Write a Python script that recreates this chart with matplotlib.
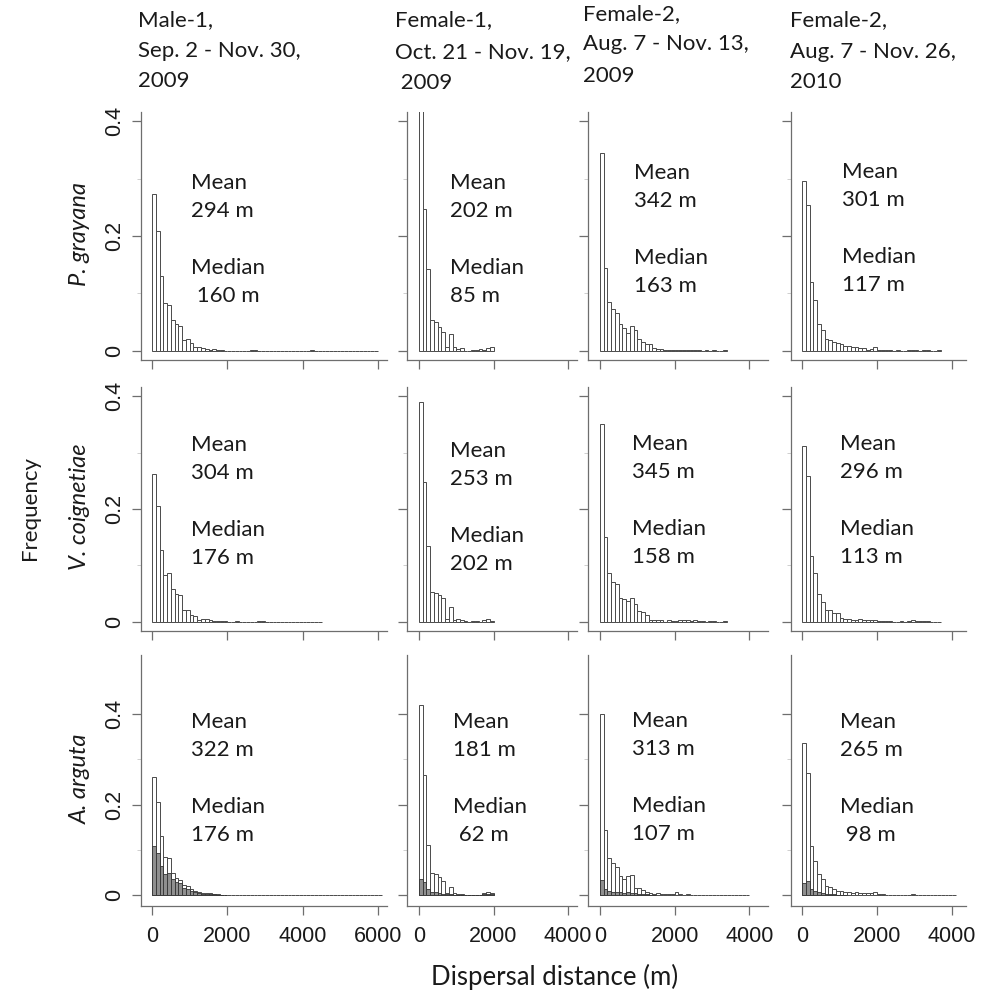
import numpy as np
import matplotlib.pyplot as plt

BIN = 100  # width of a distance class (m)

# relative frequency per 100 m class
# P. grayana
pg_m1 = [0.274, 0.209, 0.130, 0.083, 0.080, 0.053, 0.047, 0.043, 0.019, 0.020,
         0.014, 0.006, 0.006, 0.005, 0.004, 0.002, 0.003, 0.001, 0.001, 0.000,
         0.000, 0.000, 0.000, 0.000, 0.000, 0.000, 0.001, 0.001, 0.000, 0.000,
         0.000, 0.000, 0.000, 0.000, 0.000, 0.000, 0.000, 0.000, 0.000, 0.000,
         0.000, 0.000, 0.001, 0.000, 0.000, 0.000, 0.000, 0.000, 0.000, 0.000,
         0.000, 0.000, 0.000, 0.000, 0.000, 0.000, 0.000, 0.000, 0.000, 0.000]
pg_f1 = [0.420, 0.247, 0.143, 0.053, 0.051, 0.041, 0.032, 0.006, 0.029, 0.006,
         0.004, 0.005, 0.000, 0.000, 0.001, 0.002, 0.004, 0.002, 0.005, 0.006]
pg_f2a = [0.344, 0.144, 0.085, 0.072, 0.065, 0.047, 0.040, 0.031, 0.044, 0.036,
          0.020, 0.015, 0.012, 0.011, 0.005, 0.004, 0.004, 0.002, 0.002, 0.001,
          0.002, 0.002, 0.001, 0.002, 0.001, 0.002, 0.001, 0.000, 0.001, 0.000,
          0.001, 0.000, 0.000, 0.001]
pg_f2b = [0.296, 0.254, 0.120, 0.088, 0.046, 0.037, 0.021, 0.019, 0.015, 0.013,
          0.011, 0.009, 0.008, 0.006, 0.006, 0.005, 0.005, 0.002, 0.003, 0.007,
          0.002, 0.002, 0.001, 0.001, 0.000, 0.001, 0.000, 0.000, 0.001, 0.002,
          0.001, 0.000, 0.002, 0.001, 0.000, 0.000, 0.001]

# V. coignetiae
vc_m1 = [0.262, 0.206, 0.128, 0.084, 0.086, 0.059, 0.050, 0.048, 0.021, 0.021,
         0.012, 0.010, 0.004, 0.005, 0.006, 0.004, 0.002, 0.002, 0.001, 0.001,
         0.000, 0.000, 0.001, 0.000, 0.000, 0.000, 0.000, 0.000, 0.002, 0.001,
         0.000, 0.000, 0.000, 0.000, 0.000, 0.000, 0.000, 0.000, 0.000, 0.000,
         0.000, 0.000, 0.000, 0.000, 0.000]
vc_f1 = [0.390, 0.248, 0.134, 0.053, 0.052, 0.047, 0.042, 0.006, 0.027, 0.004,
         0.006, 0.003, 0.002, 0.000, 0.001, 0.002, 0.000, 0.004, 0.005, 0.002]
vc_f2a = [0.350, 0.150, 0.086, 0.070, 0.067, 0.043, 0.041, 0.037, 0.042, 0.032,
          0.019, 0.017, 0.012, 0.003, 0.003, 0.004, 0.003, 0.000, 0.003, 0.002,
          0.001, 0.004, 0.003, 0.003, 0.002, 0.003, 0.001, 0.001, 0.000, 0.001,
          0.001, 0.000, 0.000, 0.001]
vc_f2b = [0.311, 0.258, 0.116, 0.087, 0.049, 0.035, 0.022, 0.021, 0.015, 0.015,
          0.007, 0.006, 0.006, 0.004, 0.004, 0.005, 0.004, 0.003, 0.004, 0.003,
          0.002, 0.001, 0.001, 0.001, 0.000, 0.000, 0.001, 0.000, 0.002, 0.003,
          0.001, 0.001, 0.002, 0.001, 0.000, 0.000, 0.000]

# A. arguta (all seeds, and the darker sub-set)
aa_m1 = [0.260, 0.206, 0.130, 0.085, 0.082, 0.048, 0.038, 0.033, 0.022, 0.021,
         0.013, 0.010, 0.006, 0.005, 0.005, 0.004, 0.003, 0.002, 0.001, 0.001,
         0.001, 0.000, 0.000, 0.000, 0.000, 0.000, 0.000, 0.000, 0.000, 0.000,
         0.000, 0.000, 0.000, 0.000, 0.000, 0.000, 0.000, 0.000, 0.000, 0.000,
         0.000, 0.000, 0.000, 0.000, 0.000, 0.000, 0.000, 0.000, 0.000, 0.000,
         0.000, 0.000, 0.000, 0.000, 0.000, 0.000, 0.000, 0.000, 0.000, 0.000,
         0.000]
aa_m1_sub = [0.109, 0.092, 0.064, 0.046, 0.049, 0.035, 0.028, 0.026, 0.015, 0.014,
             0.010, 0.006, 0.004, 0.003, 0.003, 0.002, 0.002, 0.001, 0.001, 0.000]
aa_f1 = [0.419, 0.266, 0.110, 0.049, 0.046, 0.039, 0.031, 0.005, 0.018, 0.004,
         0.003, 0.002, 0.001, 0.001, 0.000, 0.000, 0.001, 0.005, 0.006, 0.005]
aa_f1_sub = [0.035, 0.029, 0.013, 0.007, 0.007, 0.005, 0.003, 0.002, 0.002, 0.001,
             0.001, 0.001, 0.000, 0.000, 0.000, 0.000, 0.001, 0.002, 0.002, 0.002]
aa_f2a = [0.400, 0.143, 0.083, 0.070, 0.061, 0.043, 0.035, 0.042, 0.044, 0.016,
          0.015, 0.011, 0.006, 0.004, 0.003, 0.004, 0.002, 0.002, 0.002, 0.002,
          0.006, 0.002, 0.001, 0.002, 0.001, 0.001, 0.000, 0.001, 0.000, 0.000,
          0.001, 0.000, 0.000, 0.000, 0.000, 0.000, 0.000, 0.000, 0.000, 0.000]
aa_f2a_sub = [0.033, 0.013, 0.009, 0.007, 0.007, 0.006, 0.005, 0.006, 0.005, 0.004,
              0.003, 0.002, 0.002, 0.001, 0.001]
aa_f2b = [0.336, 0.270, 0.109, 0.075, 0.046, 0.035, 0.021, 0.017, 0.013, 0.010,
          0.009, 0.008, 0.006, 0.005, 0.006, 0.004, 0.004, 0.004, 0.004, 0.006,
          0.002, 0.002, 0.001, 0.001, 0.001, 0.000, 0.001, 0.000, 0.000, 0.003,
          0.001, 0.000, 0.000, 0.000, 0.000, 0.000, 0.000, 0.000, 0.000, 0.000,
          0.000]
aa_f2b_sub = [0.026, 0.031, 0.0125, 0.009, 0.006, 0.004, 0.003, 0.002, 0.002, 0.001,
              0.001, 0.001]

means = [["294 m", "202 m", "342 m", "301 m"],
         ["304 m", "253 m", "345 m", "296 m"],
         ["322 m", "181 m", "313 m", "265 m"]]
medians = [[" 160 m", "85 m", "163 m", "117 m"],
           ["176 m", "202 m", "158 m", "113 m"],
           ["176 m", " 62 m", "107 m", " 98 m"]]

col_titles = [["Male-1,", "Sep. 2 - Nov. 30,", "2009"],
              ["Female-1,", "Oct. 21 - Nov. 19,", " 2009"],
              ["Female-2,", "Aug. 7 - Nov. 13,", "2009"],
              ["Female-2,", "Aug. 7 - Nov. 26,", "2010"]]
species = ["P. grayana", "V. coignetiae", "A. arguta"]

totals = [[pg_m1, pg_f1, pg_f2a, pg_f2b],
          [vc_m1, vc_f1, vc_f2a, vc_f2b],
          [aa_m1, aa_f1, aa_f2a, aa_f2b]]
subsets = [aa_m1_sub, aa_f1_sub, aa_f2a_sub, aa_f2b_sub]

# ---- layout, in pixels of the 986 x 998 picture
W, H = 986, 998
col_lr = [(141, 387), (407, 577), (588, 768), (791, 966)]
col_xlim = [(-292, 6238), (-322, 4240), (-322, 4500), (-293, 4370)]
col_xticks = [[0, 2000, 4000, 6000], [0, 2000, 4000], [0, 2000, 4000], [0, 2000, 4000]]
row_tb = [(112, 360), (387, 631), (655, 906)]
row_ylim = [(-0.016, 0.416), (-0.016, 0.416), (-0.024, 0.53)]
mean_x = [[191, 450, 634, 842], [191, 450, 632, 840], [191, 453, 632, 840]]
mean_y = [[183, 183, 173, 172], [445, 451, 444, 444], [722, 722, 721, 722]]
title_x = [138, 395, 583, 790]
title_y = [[20, 51, 81], [20, 52, 83], [14, 44, 76], [20, 52, 82]]

TXT = "Lato"
NUM = "Liberation Sans"
INK = "#1a1a1a"
EDGE = "#4a4a4a"
AX = "#6e6e6e"


def fx(px):
    return px / W


def fy(py):
    return 1 - py / H


fig = plt.figure(figsize=(W / 100, H / 100), dpi=100)

for r in range(3):
    top, bot = row_tb[r]
    for c in range(4):
        left, right = col_lr[c]
        ax = fig.add_axes([fx(left), fy(bot), fx(right - left), (bot - top) / H])
        vals = np.array(totals[r][c])
        edges = np.arange(len(vals)) * BIN
        ax.bar(edges, vals, width=BIN, align="edge", facecolor="white",
               edgecolor=EDGE, linewidth=0.7)
        if r == 2:
            sub = np.array(subsets[c])
            ax.bar(np.arange(len(sub)) * BIN, sub, width=BIN, align="edge",
                   facecolor="#8f8f8f", edgecolor="#333333", linewidth=0.6)
        ax.set_xlim(*col_xlim[c])
        ax.set_ylim(*row_ylim[r])
        for s in ["top", "right"]:
            ax.spines[s].set_visible(False)
        for s in ["left", "bottom"]:
            ax.spines[s].set_color(AX)
            ax.spines[s].set_linewidth(0.9)
        ax.set_yticks([0, 0.2, 0.4])
        ax.set_yticks([0.1, 0.3], minor=True)
        ax.set_xticks(col_xticks[c])
        ax.tick_params(axis="both", which="major", direction="out", length=6.5,
                       width=0.9, color=AX, labelsize=15.5, labelcolor=INK)
        ax.tick_params(axis="y", which="minor", direction="out", length=3,
                       width=0.6, color="#c8c8c8")
        if c == 0:
            ax.set_yticklabels(["0", "0.2", "0.4"], rotation=90, va="center",
                               fontfamily=NUM)
            ax.tick_params(axis="y", pad=5)
        else:
            ax.set_yticklabels([])
        if r == 2:
            ax.set_xticklabels([str(t) for t in col_xticks[c]], fontfamily=NUM)
            ax.tick_params(axis="x", pad=8)
        else:
            ax.set_xticklabels([])

        # mean / median annotations
        x0 = mean_x[r][c]
        y0 = mean_y[r][c]
        for dy, s in [(0, "Mean"), (28, means[r][c]), (85, "Median"), (113, medians[r][c])]:
            fig.text(fx(x0), fy(y0 + dy), s, fontsize=16, fontfamily=TXT,
                     ha="left", va="center", color=INK)

# column titles
for c in range(4):
    for i, line in enumerate(col_titles[c]):
        fig.text(fx(title_x[c]), fy(title_y[c][i]), line, fontsize=16,
                 fontfamily=TXT, ha="left", va="center", color=INK)

# species labels
for r in range(3):
    top, bot = row_tb[r]
    fig.text(fx(80), fy((top + bot) / 2 - 2), species[r], fontsize=17,
             fontfamily=TXT, fontstyle="italic", rotation=90,
             ha="center", va="center", color=INK)

fig.text(fx(30), fy(508), "Frequency", fontsize=16, fontfamily=TXT,
         rotation=90, ha="center", va="center", color=INK)
fig.text(fx(555), fy(977), "Dispersal distance (m)", fontsize=18.5,
         fontfamily=TXT, ha="center", va="center", color=INK)

fig.savefig("out.png", dpi=100)
